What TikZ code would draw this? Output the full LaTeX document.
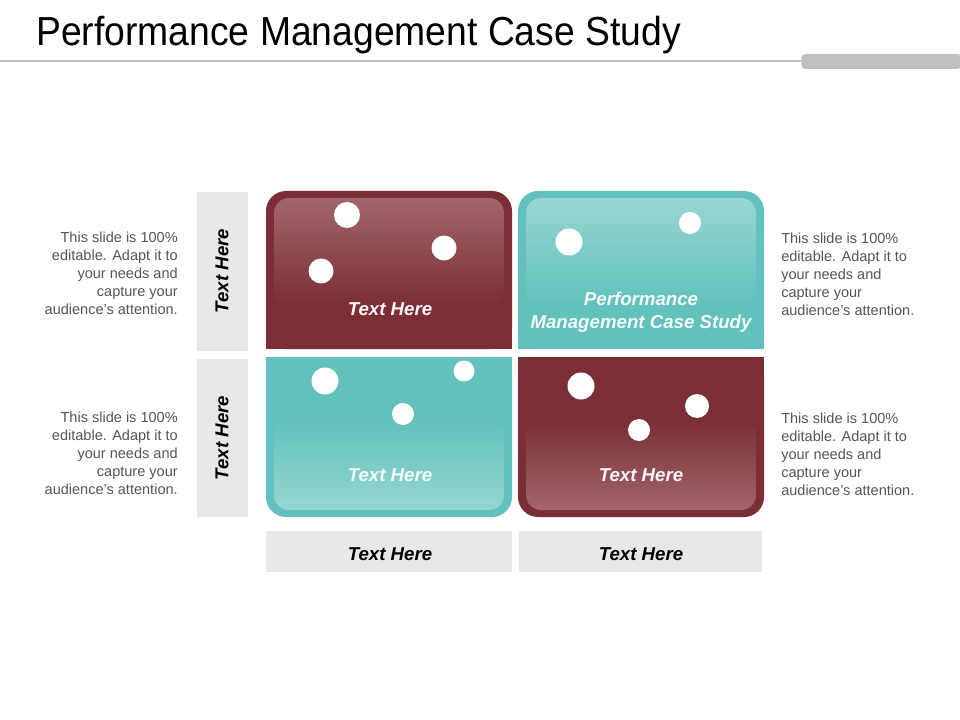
\documentclass[tikz,border=0pt]{standalone}
\usepackage{fontspec}
\setmainfont{Liberation Sans}
\newfontfamily\titlefont[FakeStretch=0.92]{Liberation Sans}
\definecolor{maroon}{HTML}{7B2E36}
\definecolor{maroonlt}{HTML}{A2666C}
\definecolor{teal}{HTML}{62C1BC}
\definecolor{teallt}{HTML}{97D6D1}
\definecolor{labelgray}{HTML}{E8E8E8}
\definecolor{bodygray}{HTML}{555555}
\definecolor{rulegray}{HTML}{BFBFBF}
\begin{document}
\begin{tikzpicture}[x=0.75pt,y=-0.75pt,
  labelbox/.style={fill=labelgray,draw=none},
  labeltext/.style={font=\fontsize{14}{16}\selectfont\bfseries\itshape,text=black,inner sep=0pt},
  quadtext/.style={font=\fontsize{14}{17.3}\selectfont\bfseries\itshape,inner sep=0pt,align=center},
  bodytext/.style={font=\fontsize{10.9}{13.45}\selectfont,text=bodygray,inner sep=0pt},
  dot/.style={fill=white}]
\useasboundingbox (0,0) rectangle (960,720);
\fill[white] (0,0) rectangle (960,720);
% header
\node[anchor=base west,inner sep=0pt,font=\titlefont\fontsize{30.4}{34}\selectfont] (title) at (36,46) {Performance Management Case Study};
\coordinate (ruleL) at (0,61.5);
\node[fill=rulegray,rounded corners=3pt,minimum width=160*0.75pt,minimum height=15*0.75pt,inner sep=0pt,anchor=west] (bar) at (801,61.5) {};
\draw[rulegray,line width=1.5pt] (ruleL) -- (ruleL -| bar.west);
% gray label boxes
\fill[labelbox] (197,192) rectangle (248,351);
\fill[labelbox] (197,359) rectangle (248,517);
\fill[labelbox] (266,531) rectangle (512,572);
\fill[labelbox] (519,531) rectangle (762,572);
\node[labeltext,rotate=90] (vl1) at (222,271) {Text Here};
\node[labeltext,rotate=90] (vl2) at (222,438) {Text Here};
\node[labeltext] (bl1) at (390,554) {Text Here};
\node[labeltext] (bl2) at (641,554) {Text Here};
% TL quadrant
\fill[maroon,rounded corners=20*0.75pt] (266,191) rectangle (512,349);
\fill[maroon] (266,260) rectangle (512,349);
\shade[top color=maroonlt,bottom color=maroon,rounded corners=15*0.75pt] (274,198) rectangle (504,305);
% TR quadrant
\fill[teal,rounded corners=20*0.75pt] (518,191) rectangle (764,349);
\fill[teal] (518,260) rectangle (764,349);
\shade[top color=teallt,bottom color=teal,rounded corners=15*0.75pt] (526,198) rectangle (756,305);
% BL quadrant
\fill[teal,rounded corners=20*0.75pt] (266,357) rectangle (512,517);
\fill[teal] (266,357) rectangle (512,440);
\shade[top color=teal,bottom color=teallt,rounded corners=15*0.75pt] (274,420) rectangle (504,510);
% BR quadrant
\fill[maroon,rounded corners=20*0.75pt] (518,357) rectangle (764,517);
\fill[maroon] (518,357) rectangle (764,440);
\shade[top color=maroon,bottom color=maroonlt,rounded corners=15*0.75pt] (526,420) rectangle (756,510);
% dots
\fill[dot] (347,215) circle[radius=13];
\fill[dot] (444,248) circle[radius=12.5];
\fill[dot] (321,271) circle[radius=12.5];
\fill[dot] (569,242) circle[radius=13.5];
\fill[dot] (690,223) circle[radius=11];
\fill[dot] (325,381) circle[radius=13.5];
\fill[dot] (464,371) circle[radius=10.5];
\fill[dot] (403,414) circle[radius=11];
\fill[dot] (581,386) circle[radius=13.5];
\fill[dot] (697,406) circle[radius=12];
\fill[dot] (639,430) circle[radius=11];
% quadrant texts
\node[quadtext,text=white!95!maroon] (q1) at (390,309) {Text Here};
\node[quadtext,text=white!93!teal] (q2) at (641,312) {Performance\\Management Case Study};
\node[quadtext,text=white!93!teal] (q3) at (390,475) {Text Here};
\node[quadtext,text=white!95!maroon] (q4) at (641,475) {Text Here};
% body texts
\node[bodytext,align=right,anchor=north east] (lt1) at (178,232) {This slide is 100\%\\editable. Adapt it to\\your needs and\\capture your\\audience's attention.};
\node[bodytext,align=right,anchor=north east] (lt2) at (178,412) {This slide is 100\%\\editable. Adapt it to\\your needs and\\capture your\\audience's attention.};
\node[bodytext,align=left,anchor=north west] (rt1) at (781,233) {This slide is 100\%\\editable. Adapt it to\\your needs and\\capture your\\audience's attention.};
\node[bodytext,align=left,anchor=north west] (rt2) at (781,413) {This slide is 100\%\\editable. Adapt it to\\your needs and\\capture your\\audience's attention.};
\end{tikzpicture}
\end{document}
